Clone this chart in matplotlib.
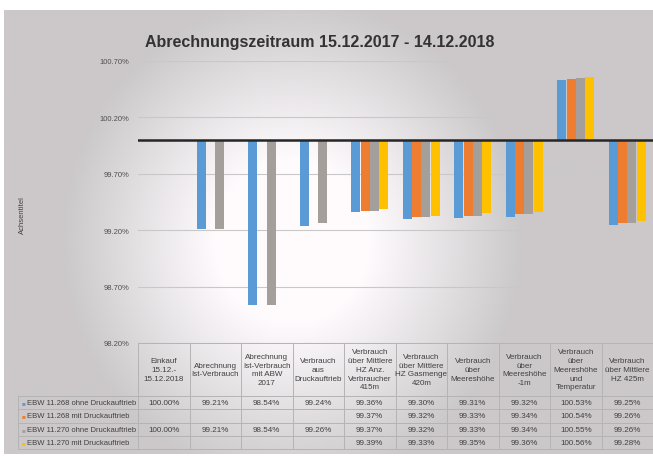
import numpy as np
import matplotlib
matplotlib.use("Agg")
import matplotlib.pyplot as plt
from matplotlib.transforms import blended_transform_factory

plt.rcParams['font.family'] = ['Liberation Sans Narrow', 'Liberation Sans', 'DejaVu Sans']

################# data #################
categories = ["Einkauf\n15.12.-\n15.12.2018",
              "Abrechnung\nIst-Verbrauch",
              "Abrechnung\nIst-Verbrauch\nmit ABW\n2017",
              "Verbrauch\naus\nDruckauftrieb",
              "Verbrauch\nüber Mittlere\nHZ Anz.\nVerbraucher\n415m",
              "Verbrauch\nüber Mittlere\nHZ Gasmenge\n420m",
              "Verbrauch\nüber\nMeereshöhe",
              "Verbrauch\nüber\nMeereshöhe\n-1m",
              "Verbrauch\nüber\nMeereshöhe\nund\nTemperatur",
              "Verbrauch\nüber Mittlere\nHZ 425m"]
series_names = ["EBW 11.268 ohne Druckauftrieb",
                "EBW 11.268 mit Druckauftrieb",
                "EBW 11.270 ohne Druckauftrieb",
                "EBW 11.270 mit Druckauftrieb"]
nan = np.nan
s_268_ohne = [100.00, 99.21, 98.54, 99.24, 99.36, 99.30, 99.31, 99.32, 100.53, 99.25]
s_268_mit = [nan, nan, nan, nan, 99.37, 99.32, 99.33, 99.34, 100.54, 99.26]
s_270_ohne = [100.00, 99.21, 98.54, 99.26, 99.37, 99.32, 99.33, 99.34, 100.55, 99.26]
s_270_mit = [nan, nan, nan, nan, 99.39, 99.33, 99.35, 99.36, 100.56, 99.28]
yticks = [98.2, 98.7, 99.2, 99.7, 100.2, 100.7]
baseline = 100.0
colors = ["#5b9bd5", "#ed7d31", "#a59f9c", "#ffc000"]
########################################

W, H = 653, 460
fig = plt.figure(figsize=(W / 100, H / 100), dpi=100)
fig.patch.set_facecolor("white")

# photo-like background (grey with bright glare in the middle)
bg = fig.add_axes([4 / W, 5 / H, 1 - 4 / W, 1 - 16 / H], zorder=-5)
gx, gy = np.meshgrid(np.linspace(0, W, 300), np.linspace(0, H, 220))
d = np.sqrt(((gx - 290) / 230) ** 2 + ((gy - 240) / 250) ** 2)
glare = np.clip(1.5 * (1.0 - d), 0, 1)
shade = 0.80 + 0.20 * glare
img = np.dstack([shade, shade * 0.985, shade * 0.995])
bg.imshow(np.clip(img, 0, 1), aspect="auto", extent=[0, 1, 0, 1], origin="upper")
bg.axis("off")

ax = fig.add_axes([138 / W, 1 - 344 / H, (W - 138) / W, (344 - 62) / H])
ax.patch.set_alpha(0)

x = np.arange(len(categories))
all_series = [s_268_ohne, s_268_mit, s_270_ohne, s_270_mit]
bw = 0.18
for i, (vals, col) in enumerate(zip(all_series, colors)):
    vals = np.array(vals, dtype=float)
    ax.bar(x + (i - 1.5) * bw, vals - baseline, bottom=baseline, width=bw * 0.95,
           color=col, zorder=3)

ax.set_xlim(-0.5, len(categories) - 0.5)
ax.set_ylim(yticks[0], yticks[-1])
ax.set_yticks(yticks)
ax.set_yticklabels([f"{t:.2f}%" for t in yticks], fontsize=5.5, color="#505050")
ax.tick_params(axis="y", length=0, pad=6)
ax.set_xticks([])
for sp in ax.spines.values():
    sp.set_visible(False)
ax.grid(axis="y", color="#c8c8c8", linewidth=0.8, zorder=0)
ax.axhline(baseline, color="#262626", linewidth=1.8, zorder=4)

fig.text(22 / W, 1 - 215 / H, "Achsentitel", rotation=90, fontsize=5.5,
         color="#404040", ha="center", va="center")
fig.text(320 / W, 1 - 43 / H, "Abrechnungszeitraum 15.12.2017 - 14.12.2018",
         fontsize=11.5, fontweight="bold", color="#333333", ha="center", va="center")

# data table below the plot
tr = blended_transform_factory(ax.transData, fig.transFigure)
ftr = fig.transFigure
lc = "#b4b4b4"
y_head_top = 1 - 344 / H
y_head_bot = 1 - 397 / H
row_h = 13.3 / H
y_rows = [y_head_bot - k * row_h for k in range(5)]
n = len(categories)

for b in np.arange(n + 1) - 0.5:
    ax.plot([b, b], [y_head_top, y_rows[-1]], color=lc, lw=0.7, transform=tr, clip_on=False)
ax.plot([-0.5, n - 0.5], [y_head_top, y_head_top], color=lc, lw=0.7, transform=tr, clip_on=False)
for yy in y_rows:
    fig.add_artist(plt.Line2D([18 / W, 1], [yy, yy], color=lc, lw=0.7, transform=ftr))
fig.add_artist(plt.Line2D([18 / W, 18 / W], [y_rows[0], y_rows[-1]], color=lc, lw=0.7, transform=ftr))

for j, cat in enumerate(categories):
    ax.text(j, (y_head_top + y_head_bot) / 2, cat, transform=tr, ha="center", va="center",
            fontsize=5.8, color="#404040", linespacing=1.35)

for i, (vals, name, col) in enumerate(zip(all_series, series_names, colors)):
    yc = (y_rows[i] + y_rows[i + 1]) / 2
    fig.text(23 / W, yc, "\u25a0", fontsize=4.5, color=col, ha="center", va="center")
    fig.text(27 / W, yc, name, fontsize=5.5, color="#404040", ha="left", va="center")
    for j, v in enumerate(vals):
        if not np.isnan(v):
            ax.text(j, yc, f"{v:.2f}%", transform=tr, ha="center", va="center",
                    fontsize=5.8, color="#404040")

fig.savefig("out.png", dpi=100)
